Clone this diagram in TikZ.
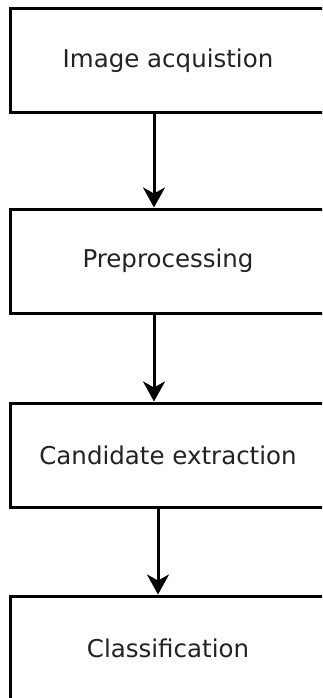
\documentclass[tikz,border=0pt]{standalone}
\usepackage{fontspec}
\setmainfont{DejaVu Sans}
\usetikzlibrary{arrows.meta,positioning}
\definecolor{stageink}{HTML}{222222}
\tikzset{
  >={Stealth[length=20pt,width=22pt,inset=6pt]},
  font=\fontsize{24.5}{29}\selectfont,
  stage/.style={draw=black,line width=3pt,fill=white,minimum width=316pt,
                minimum height=104pt,inner sep=0pt,text=stageink,align=center},
  flow/.style={->,line width=3pt,draw=black},
}
\begin{document}
\begin{tikzpicture}[x=1pt,y=1pt]
  % page frame; the boxes run off the right and bottom edges
  \useasboundingbox (0,0) rectangle (322,-698);
  \clip (0,0) rectangle (322,-698);

  % ===== pipeline stages =====
  \node[stage] (acq)   at (168,-61)  {Image acquistion};
  \node[stage] (prep)  at (168,-261) {Preprocessing};
  \node[stage] (cand)  at (168,-455) {Candidate extraction};
  \node[stage] (class) at (168,-648) {Classification};

  % ===== connectors (a little left of centre) =====
  \draw[flow] ([xshift=-14pt]acq.south)  -- ([xshift=-14pt]prep.north);
  \draw[flow] ([xshift=-14pt]prep.south) -- ([xshift=-14pt]cand.north);
  \draw[flow] ([xshift=-10pt]cand.south) -- ([xshift=-10pt]class.north);
\end{tikzpicture}
\end{document}
